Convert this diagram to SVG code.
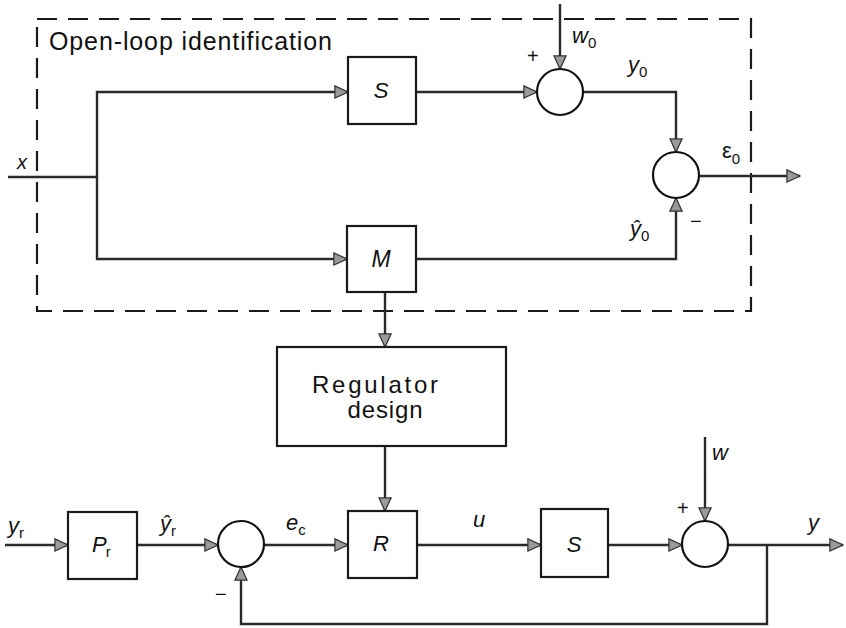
<svg xmlns="http://www.w3.org/2000/svg" width="846" height="628" viewBox="0 0 846 628">
<defs>
<marker id="arr" viewBox="0 0 16 16" refX="15" refY="8" markerWidth="15" markerHeight="15" markerUnits="userSpaceOnUse" orient="auto">
<path d="M1,1.5 L15,8 L1,14.5 Z" fill="#9a9a9a" stroke="#333" stroke-width="1.3"/>
</marker>
</defs>
<style>
.blk{fill:#fff;stroke:#1a1a1a;stroke-width:2.2}
.sum{fill:#fff;stroke:#111;stroke-width:2.2}
.ln{fill:none;stroke:#2a2a2a;stroke-width:2.4}
.dash{fill:none;stroke:#1a1a1a;stroke-width:2.2;stroke-dasharray:20 11}
.t{font-family:"Liberation Sans",Arial,sans-serif;fill:#111}
.i{font-family:"Liberation Sans",Arial,sans-serif;font-style:italic;fill:#111}
.sub{font-size:15px;font-style:normal}
</style>
<rect width="846" height="628" fill="#fff"/>
<g id="openloop-frame">
<rect class="dash" x="37" y="19" width="714" height="292"/>
<text class="t" x="49" y="50" font-size="25" textLength="283">Open-loop identification</text>
</g>
<g id="connectors">
<polyline class="ln" points="8,177 97,177 97,92 348,92" marker-end="url(#arr)"/>
<polyline class="ln" points="97,177 97,259 347,259" marker-end="url(#arr)"/>
<line class="ln" x1="416" y1="92" x2="537" y2="92" marker-end="url(#arr)"/>
<line class="ln" x1="560" y1="4" x2="560" y2="69" marker-end="url(#arr)"/>
<polyline class="ln" points="583,92 676,92 676,152" marker-end="url(#arr)"/>
<polyline class="ln" points="416,259 676,259 676,198" marker-end="url(#arr)"/>
<line class="ln" x1="699" y1="176" x2="800" y2="176" marker-end="url(#arr)"/>
<line class="ln" x1="385" y1="292" x2="385" y2="347" marker-end="url(#arr)"/>
<line class="ln" x1="385" y1="446" x2="385" y2="511" marker-end="url(#arr)"/>
<line class="ln" x1="5" y1="545" x2="68" y2="545" marker-end="url(#arr)"/>
<line class="ln" x1="137" y1="545" x2="218" y2="545" marker-end="url(#arr)"/>
<line class="ln" x1="264" y1="545" x2="348" y2="545" marker-end="url(#arr)"/>
<line class="ln" x1="417" y1="545" x2="541" y2="545" marker-end="url(#arr)"/>
<line class="ln" x1="608" y1="545" x2="682" y2="545" marker-end="url(#arr)"/>
<line class="ln" x1="728" y1="545" x2="843" y2="545" marker-end="url(#arr)"/>
<line class="ln" x1="705" y1="437" x2="705" y2="521" marker-end="url(#arr)"/>
<polyline class="ln" points="767,545 767,624 241,624 241,567" marker-end="url(#arr)"/>
</g>
<g id="S-open">
<rect class="blk" x="348" y="57" width="68" height="67"/>
<text class="i" x="381" y="98" font-size="22" text-anchor="middle">S</text>
</g>
<g id="sum-w0">
<circle class="sum" cx="560" cy="92" r="23"/>
</g>
<g id="sum-eps">
<circle class="sum" cx="676" cy="175" r="23"/>
</g>
<g id="M">
<rect class="blk" x="347" y="226" width="69" height="66"/>
<text class="i" x="381" y="267" font-size="23" text-anchor="middle">M</text>
</g>
<g id="regulator-design">
<rect class="blk" x="277" y="347" width="229" height="99"/>
<text class="t" x="375" y="393" font-size="24" text-anchor="middle" textLength="126">Regulator</text>
<text class="t" x="385" y="418" font-size="24" text-anchor="middle" textLength="75">design</text>
</g>
<g id="Pr">
<rect class="blk" x="68" y="512" width="69" height="67"/>
<text class="i" x="92" y="552" font-size="22">P<tspan class="sub" dx="-1" dy="5">r</tspan></text>
</g>
<g id="sum-ec">
<circle class="sum" cx="241" cy="544" r="23"/>
</g>
<g id="R">
<rect class="blk" x="348" y="511" width="69" height="67"/>
<text class="i" x="381" y="551" font-size="22" text-anchor="middle">R</text>
</g>
<g id="S-closed">
<rect class="blk" x="541" y="509" width="67" height="68"/>
<text class="i" x="574" y="552" font-size="22" text-anchor="middle">S</text>
</g>
<g id="sum-w">
<circle class="sum" cx="705" cy="544" r="23"/>
</g>
<g id="labels">
<text class="i" x="17" y="169" font-size="20">x</text>
<text class="t" x="527" y="63" font-size="20">+</text>
<text class="i" x="572" y="43" font-size="22">w<tspan class="sub" dy="5">0</tspan></text>
<text class="i" x="628" y="72" font-size="22">y<tspan class="sub" dy="5">0</tspan></text>
<text class="t" x="722" y="158" font-size="22">ε<tspan class="sub" dy="6">0</tspan></text>
<text class="i" x="630" y="236" font-size="22">ŷ<tspan class="sub" dy="5">0</tspan></text>
<text class="t" x="690" y="228" font-size="20">−</text>
<text class="i" x="8" y="533" font-size="22">y<tspan class="sub" dy="5">r</tspan></text>
<text class="i" x="160" y="531" font-size="22">ŷ<tspan class="sub" dy="5">r</tspan></text>
<text class="t" x="215" y="601" font-size="20">−</text>
<text class="i" x="286" y="530" font-size="22">e<tspan class="sub" dy="5">c</tspan></text>
<text class="i" x="473" y="527" font-size="22">u</text>
<text class="t" x="677" y="515" font-size="20">+</text>
<text class="i" x="712" y="460" font-size="22">w</text>
<text class="i" x="808" y="530" font-size="22">y</text>
</g>
</svg>
